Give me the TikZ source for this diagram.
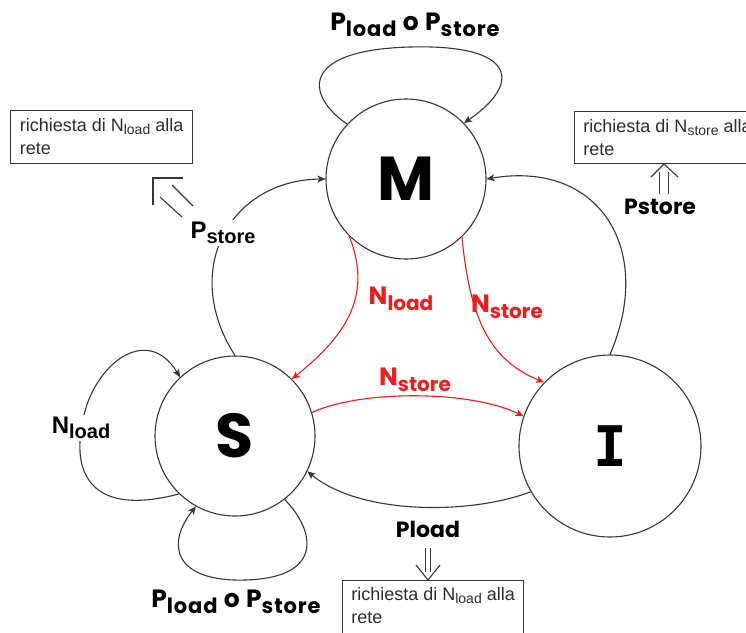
\documentclass[tikz,border=0pt]{standalone}
\usepackage{fontspec}
\setmainfont{Liberation Sans}
\newfontfamily\handfont{Poppins}
\newfontfamily\handwide{Poppins}[LetterSpace=4]
\newfontfamily\slabfont{DejaVu Sans Mono}
\usetikzlibrary{arrows.meta}

\definecolor{linec}{RGB}{55,55,55}
\definecolor{redc}{RGB}{238,28,28}
\definecolor{boxtext}{RGB}{45,45,45}

% label with a lowered, smaller index (hand-drawn style font)
\newcommand\hsub[2]{#1\raisebox{-6pt}{\fontsize{20}{20}\selectfont #2}}
% wider variant for the self-loop labels
\newcommand\wsub[2]{#1\raisebox{-6pt}{\fontsize{21}{21}\selectfont #2}}
% the same for the sans labels
\newcommand\asub[2]{#1\raisebox{-5pt}{\fontsize{20}{20}\selectfont #2}}
% index inside the request boxes
\newcommand\bsub[2]{#1\raisebox{-3pt}{\fontsize{14}{14}\selectfont #2}}

\tikzset{
  state/.style={circle, draw=linec, line width=1.1pt, inner sep=0pt, fill=white,
    font=\handfont\bfseries\fontsize{62}{62}\selectfont},
  edge/.style={draw=linec, line width=1.1pt, -{Stealth[length=8pt,width=7pt,inset=2pt]}},
  redge/.style={edge, draw=redc},
  hlab/.style={font=\handfont\bfseries\fontsize{25}{25}\selectfont, inner sep=1pt},
  wlab/.style={font=\handwide\bfseries\fontsize{25}{25}\selectfont, inner sep=1pt},
  plab/.style={font=\handfont\bfseries\fontsize{22}{22}\selectfont, inner sep=1pt},
  alab/.style={font=\bfseries\fontsize{24}{24}\selectfont, inner sep=2pt, fill=white},
  reqbox/.style={draw=linec, line width=1.1pt, fill=white, align=left, text=boxtext,
    font=\fontsize{18}{23}\selectfont, inner sep=0pt},
  stroke/.style={draw=linec, line width=1.1pt, line join=miter}
}

\begin{document}
\begin{tikzpicture}[x=1pt, y=-1pt]
  \useasboundingbox (0,0) rectangle (746,632);
  \fill[white] (0,0) rectangle (746,632);
  \clip (0,0) rectangle (746,632);

  % the three states
  \node[state, minimum size=160pt] (M) at (406,179) {M};
  \node[state, minimum size=160pt] (S) at (235,436) {S};
  \node[state, minimum size=182pt, font=\slabfont\bfseries\fontsize{56}{56}\selectfont] (I) at (610,446) {I};

  % black transitions
  \draw[edge] (M.137) .. controls (305,95) and (300,50) .. (410,47)
                      .. controls (520,44) and (520,85) .. (M.44.5);
  \draw[edge] (S.90) .. controls (180,270) and (230,180) .. (M.180);
  \draw[edge] (I.90) .. controls (655,250) and (600,160) .. (M.0);
  \draw[edge] (I.210) .. controls (470,515) and (360,515) .. (S.334);
  \draw[edge] (S.226) .. controls (80,520) and (75,460) .. (82,427)
                      .. controls (88,370) and (145,320) .. (S.133);
  \draw[edge] (S.308.6) .. controls (315,530) and (325,578) .. (245,580)
                        .. controls (175,582) and (165,545) .. (S.241);

  % red transitions
  \draw[redge] (M.225) .. controls (375,300) and (340,340) .. (S.45.5);
  \draw[redge] (M.314.5) .. controls (470,320) and (490,360) .. (I.136.3);
  \draw[redge] (S.17) .. controls (360,390) and (470,390) .. (I.161);

  % transition labels
  \node[wlab] (tl) at (415,25) {\wsub{P}{load} o \wsub{P}{store}};
  \node[wlab] (bl) at (236,602) {\wsub{P}{load} o \wsub{P}{store}};
  \node[hlab, text=redc] (rl1) at (401,299) {\hsub{N}{load}};
  \node[hlab, text=redc] (rl2) at (507,307) {\hsub{N}{store}};
  \node[hlab, text=redc] (rl3) at (415,380) {\hsub{N}{store}};
  \node[alab] (pst) at (223,233) {\asub{P}{store}};
  \node[alab] (nl) at (81,428) {\asub{N}{load}};
  \node[plab] (pr) at (660,207) {Pstore};
  \node[plab] (pb) at (428,529) {Pload};

  % requests to the network
  \node[reqbox, minimum width=182pt, minimum height=53pt, anchor=north west] (b1) at (10,110)
    {richiesta di \bsub{N}{load} alla\\rete};
  \node[reqbox, minimum width=186pt, minimum height=52pt, anchor=north west] (b2) at (574,111)
    {richiesta di \bsub{N}{store} alla\\rete};
  \node[reqbox, minimum width=181pt, inner ysep=7pt, text depth=18pt, anchor=north west] (b3) at (342,580)
    {richiesta di \bsub{N}{load} alla\\rete};

  % double arrows towards the boxes
  \coordinate (la1) at (160,197);  \coordinate (la2) at (182,217);
  \coordinate (lb1) at (172,185);  \coordinate (lb2) at (193,206);
  \coordinate (tipL) at (153,178);
  \draw[stroke] (la1) -- (la2);
  \draw[stroke] (lb1) -- (lb2);
  \draw[stroke] (153,205) -- (tipL) -- (183,178);

  \coordinate (ra1) at (659.5,172); \coordinate (ra2) at (659.5,194);
  \coordinate (rb1) at (668.5,172); \coordinate (rb2) at (668.5,194);
  \coordinate (tipR) at (664,164);
  \draw[stroke] (ra1) -- (ra2);
  \draw[stroke] (rb1) -- (rb2);
  \draw[stroke] (651,177) -- (tipR) -- (678,177);

  \coordinate (ba1) at (425.2,548); \coordinate (ba2) at (425.2,572);
  \coordinate (bb1) at (430.8,548); \coordinate (bb2) at (430.8,572);
  \coordinate (tipB) at (428,580);
  \draw[stroke] (ba1) -- (ba2);
  \draw[stroke] (bb1) -- (bb2);
  \draw[stroke] (416,565) -- (tipB) -- (440,565);
\end{tikzpicture}
\end{document}
